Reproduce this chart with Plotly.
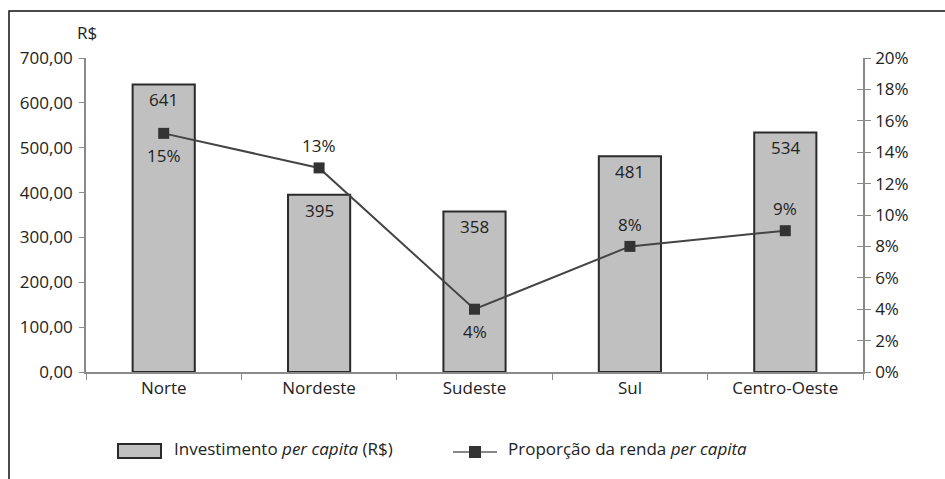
import plotly.graph_objects as go

regions = ["Norte", "Nordeste", "Sudeste", "Sul", "Centro-Oeste"]
invest = [641, 395, 358, 481, 534]
proporcao = [15.2, 13, 4, 8, 9]
prop_labels = ["15%", "13%", "4%", "8%", "9%"]
prop_label_side = ["below", "above", "below", "above", "above"]

W, H = 945, 479
ML, MR, MT, MB = 86, 82, 58, 107
PW, PH = W - ML - MR, H - MT - MB
FONT = "Open Sans"
FS = 17
TXT = "#222222"


def px_x(px):
    return (px - ML) / PW


def px_y(py):
    return (H - MB - py) / PH


fig = go.Figure()

fig.add_trace(go.Bar(
    x=regions, y=invest, width=0.4,
    marker=dict(color="#c0c0c0", line=dict(color="#2a2a2a", width=2)),
    showlegend=False, hoverinfo="skip",
))

fig.add_trace(go.Scatter(
    x=regions, y=proporcao, yaxis="y2", mode="lines+markers",
    line=dict(color="#444444", width=2),
    marker=dict(symbol="square", size=11, color="#333333"),
    showlegend=False, hoverinfo="skip",
))

# invisible trace to host a helper axis that draws the inner half of right ticks
fig.add_trace(go.Scatter(
    x=regions, y=proporcao, yaxis="y3", mode="markers",
    marker=dict(opacity=0), showlegend=False, hoverinfo="skip",
))

annotations = []
for r, v in zip(regions, invest):
    annotations.append(dict(x=r, y=v, xref="x", yref="y", text=str(v),
                            showarrow=False, yanchor="top", yshift=-2,
                            font=dict(family=FONT, size=FS, color=TXT)))
for r, v, t, s in zip(regions, proporcao, prop_labels, prop_label_side):
    annotations.append(dict(x=r, y=v, xref="x", yref="y2", text=t,
                            showarrow=False, yanchor="middle",
                            yshift=22 if s == "above" else -22,
                            font=dict(family=FONT, size=FS, color=TXT)))

annotations.append(dict(x=px_x(87), y=px_y(33), xref="paper", yref="paper",
                        text="R$", showarrow=False, xanchor="center", yanchor="middle",
                        font=dict(family=FONT, size=FS, color=TXT)))

# legend (drawn manually)
annotations.append(dict(x=px_x(172), y=px_y(448), xref="paper", yref="paper",
                        text="Investimento <i>per capita</i> (R$)", showarrow=False,
                        xanchor="left", yanchor="middle",
                        font=dict(family=FONT, size=FS, color=TXT)))
annotations.append(dict(x=px_x(506), y=px_y(448), xref="paper", yref="paper",
                        text="Proporção da renda <i>per capita</i>", showarrow=False,
                        xanchor="left", yanchor="middle",
                        font=dict(family=FONT, size=FS, color=TXT)))

shapes = [
    # outer frame
    dict(type="rect", xref="paper", yref="paper",
         x0=px_x(9), x1=px_x(960), y0=px_y(11), y1=px_y(500),
         line=dict(color="#111111", width=1.5), fillcolor="rgba(0,0,0,0)", layer="below"),
    # legend bar symbol
    dict(type="rect", xref="paper", yref="paper",
         x0=px_x(118), x1=px_x(161), y0=px_y(444), y1=px_y(458),
         line=dict(color="#2a2a2a", width=2), fillcolor="#c0c0c0"),
    # legend line symbol
    dict(type="line", xref="paper", yref="paper",
         x0=px_x(453), x1=px_x(497), y0=px_y(452), y1=px_y(452),
         line=dict(color="#888888", width=2)),
    dict(type="rect", xref="paper", yref="paper",
         x0=px_x(469), x1=px_x(481), y0=px_y(446), y1=px_y(458),
         line=dict(color="#333333", width=0), fillcolor="#333333"),
]

axis_font = dict(family=FONT, size=FS, color=TXT)
fig.update_layout(
    width=W, height=H,
    margin=dict(l=ML, r=MR, t=MT, b=MB, pad=0),
    paper_bgcolor="white", plot_bgcolor="white",
    separators=",.",
    font=axis_font,
    xaxis=dict(showline=True, linecolor="#8a8a8a", linewidth=1.5,
               ticks="outside", tickson="boundaries", ticklen=6, tickcolor="#8a8a8a",
               showgrid=False, tickfont=axis_font, range=[-0.5, 4.5]),
    yaxis=dict(range=[0, 700], dtick=100, tickformat=".2f",
               showline=True, linecolor="#8a8a8a", linewidth=1.5,
               ticks="outside", ticklen=5, tickcolor="#8a8a8a",
               showgrid=False, zeroline=False, tickfont=axis_font, ticklabelstandoff=3),
    yaxis2=dict(range=[0, 20], dtick=2, ticksuffix="%", overlaying="y", side="right",
                showline=True, linecolor="#8a8a8a", linewidth=1.5,
                ticks="outside", ticklen=6, tickcolor="#8a8a8a",
                showgrid=False, zeroline=False, tickfont=axis_font, ticklabelstandoff=1),
    yaxis3=dict(range=[0, 20], dtick=2, overlaying="y", side="right",
                showline=False, ticks="inside", ticklen=6, tickcolor="#8a8a8a",
                showticklabels=False, showgrid=False, zeroline=False),
    annotations=annotations,
    shapes=shapes,
    showlegend=False,
)

fig.write_html("out.html", config={"displayModeBar": False},
               post_script="document.body.style.margin='0px';")
